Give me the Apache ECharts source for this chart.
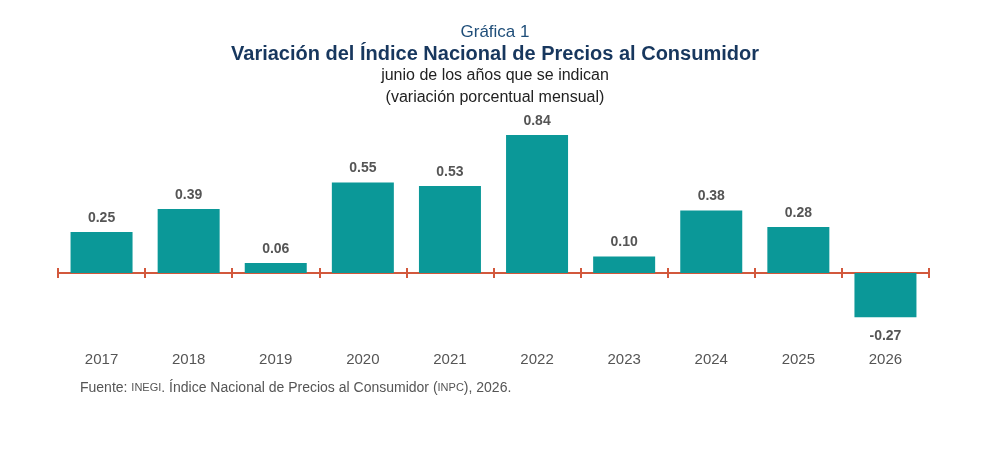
<!DOCTYPE html>
<html>
<head>
<meta charset="utf-8">
<script src="https://cdn.jsdelivr.net/npm/echarts@6/dist/echarts.min.js"></script>
<style>
html,body{margin:0;padding:0;background:#fff;}
#main{width:990px;height:470px;}
</style>
</head>
<body>
<div id="main"></div>
<script>
// datos de la grafica
var years=['2017','2018','2019','2020','2021','2022','2023','2024','2025','2026'];
var values=[0.25,0.39,0.06,0.55,0.53,0.84,0.10,0.38,0.28,-0.27];

var chart=echarts.init(document.getElementById('main'));
var font='Liberation Sans, Arial, sans-serif';
var axisColor='#D2583C';
var yMin=-0.45, yMax=1.0;
var gridBox={left:58,right:61,top:108.7,bottom:123.1};

var option={
	backgroundColor:'#ffffff',
	animation:false,
	title:[
		{text:'Gráfica 1',left:'center',top:19,textStyle:{fontFamily:font,fontSize:17,fontWeight:'normal',color:'#1F4E79'}},
		{text:'Variación del Índice Nacional de Precios al Consumidor',left:'center',top:39,textStyle:{fontFamily:font,fontSize:20,fontWeight:'bold',color:'#17375E'}},
		{text:'junio de los años que se indican',left:'center',top:63,textStyle:{fontFamily:font,fontSize:16,fontWeight:'normal',color:'#222'}},
		{text:'(variación porcentual mensual)',left:'center',top:85,textStyle:{fontFamily:font,fontSize:16,fontWeight:'normal',color:'#222'}}
	],
	graphic:[{
		type:'text',left:80,top:381,
		style:{
			text:'{a|Fuente: }{s|INEGI}{a|. Índice Nacional de Precios al Consumidor (}{s|INPC}{a|), 2026.}',
			rich:{
				a:{fontFamily:font,fontSize:14,fill:'#555'},
				s:{fontFamily:font,fontSize:11,fill:'#555'}
			}
		}
	}],
	// dos grids iguales: uno para las marcas hacia abajo y otro hacia arriba
	grid:[gridBox,gridBox],
	xAxis:[
		{
			type:'category',data:years,gridIndex:0,
			axisLine:{onZero:true,lineStyle:{color:axisColor,width:2}},
			axisTick:{show:true,inside:false,length:5,lineStyle:{color:axisColor,width:2}},
			axisLabel:{show:false}
		},
		{
			type:'category',data:years,gridIndex:0,position:'bottom',
			axisLine:{show:false,onZero:false},
			axisTick:{show:false},
			axisLabel:{margin:5,fontFamily:font,fontSize:15,color:'#555'}
		},
		{
			type:'category',data:years,gridIndex:1,
			axisLine:{onZero:true,lineStyle:{color:axisColor,width:2}},
			axisTick:{show:true,inside:true,length:5,lineStyle:{color:axisColor,width:2}},
			axisLabel:{show:false}
		}
	],
	yAxis:[
		{type:'value',gridIndex:0,min:yMin,max:yMax,show:false,splitLine:{show:false}},
		{type:'value',gridIndex:1,min:yMin,max:yMax,show:false,splitLine:{show:false}}
	],
	series:[{
		type:'bar',
		xAxisIndex:0,yAxisIndex:0,
		data:values.map(function(v){
			// la barra negativa lleva su etiqueta abajo
			if(v<0){
				return {value:v,label:{position:'bottom',distance:12}};
			}
			return v;
		}),
		barWidth:62,
		z:1,
		itemStyle:{color:'#0B9898'},
		label:{
			show:true,
			position:'top',
			distance:7,
			fontFamily:font,fontSize:14,fontWeight:'bold',color:'#555',
			formatter:function(p){return p.value.toFixed(2);}
		}
	}]
};
chart.setOption(option);
</script>
</body>
</html>
